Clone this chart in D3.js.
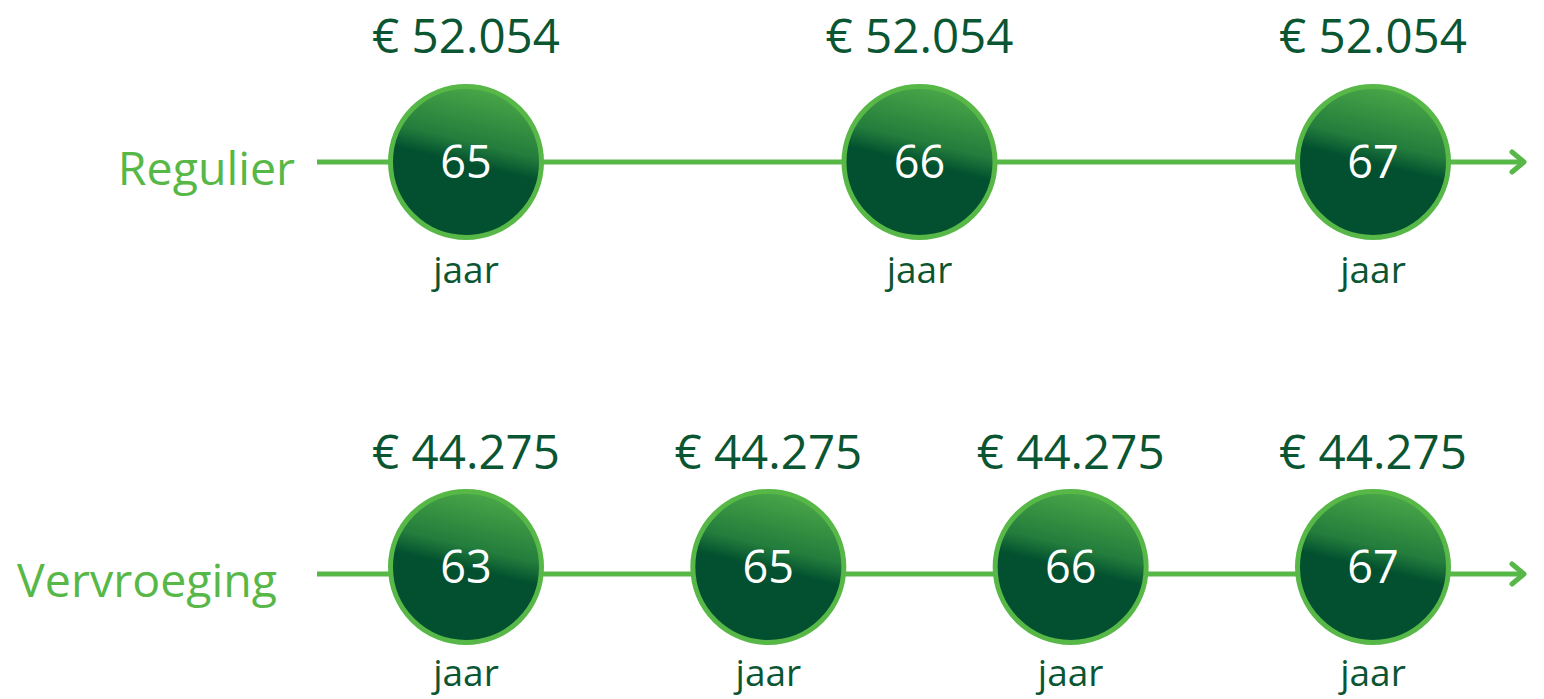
<!DOCTYPE html>
<html>
<head>
<meta charset="utf-8">
<script src="https://cdn.jsdelivr.net/npm/d3@7"></script>
<style>
  html, body { margin: 0; padding: 0; background: #fff; }
  svg { display: block; font-family: "Open Sans", "Noto Sans", sans-serif; }
</style>
</head>
<body>
<svg id="chart" width="1544" height="699"></svg>
<script>
// data
const rows = ["Regulier", "Vervroeging"];
const regulierAges = [65, 66, 67];
const regulierBedrag = [52054, 52054, 52054];
const vervroegingAges = [63, 65, 66, 67];
const vervroegingBedrag = [44275, 44275, 44275, 44275];
const unitLabel = "jaar";

const lightGreen = "#57b848";
const darkGreen = "#0a5532";

const nl = d3.formatLocale({ decimal: ",", thousands: ".", grouping: [3], currency: ["€ ", ""] });
const euro = nl.format("$,.0f");

const svg = d3.select("#chart");

// gradient for the circles
const defs = svg.append("defs");
const grad = defs.append("linearGradient")
    .attr("id", "ballFill")
    .attr("x1", 0.58).attr("y1", 0)
    .attr("x2", 0.46).attr("y2", 0.5);
grad.append("stop").attr("offset", 0).attr("stop-color", "#4aa748");
grad.append("stop").attr("offset", 0.72).attr("stop-color", "#237d3c");
grad.append("stop").attr("offset", 1).attr("stop-color", "#02502f");

defs.append("marker")
    .attr("id", "arrow")
    .attr("markerUnits", "userSpaceOnUse")
    .attr("viewBox", "-16 -14 20 28")
    .attr("refX", 0).attr("refY", 0)
    .attr("markerWidth", 20).attr("markerHeight", 28)
    .attr("orient", "auto")
  .append("path")
    .attr("d", "M-12,-10L0,0L-12,10")
    .attr("fill", "none")
    .attr("stroke", lightGreen)
    .attr("stroke-width", 5)
    .attr("stroke-linecap", "round")
    .attr("stroke-linejoin", "round");

// vertical placement per row
const lineY = d3.scalePoint().domain(rows).range([162, 574]);
const ballY = d3.scalePoint().domain(rows).range([162, 567]);
const bedragY = d3.scalePoint().domain(rows).range([53, 469]);
const jaarY = d3.scalePoint().domain(rows).range([283, 686]);
const labelY = d3.scalePoint().domain(rows).range([185, 597]);
const labelX = d3.scalePoint().domain(rows).range([295, 277]);

const series = [
  { name: rows[0], ages: regulierAges, bedrag: regulierBedrag },
  { name: rows[1], ages: vervroegingAges, bedrag: vervroegingBedrag }
];

const r = 75.5;

series.forEach(s => {
  const x = d3.scalePoint().domain(s.ages).range([466, 1373]);
  const g = svg.append("g");

  g.append("text")
      .attr("x", labelX(s.name))
      .attr("y", labelY(s.name))
      .attr("text-anchor", "end")
      .attr("fill", lightGreen)
      .attr("font-size", 46.5)
      .text(s.name);

  g.append("line")
      .attr("x1", 317).attr("x2", 1524)
      .attr("y1", lineY(s.name)).attr("y2", lineY(s.name))
      .attr("stroke", lightGreen)
      .attr("stroke-width", 5)
      .attr("marker-end", "url(#arrow)");

  const node = g.selectAll(".node")
    .data(s.ages.map((a, i) => ({ age: a, bedrag: s.bedrag[i] })))
    .enter().append("g")
      .attr("class", "node")
      .attr("transform", d => `translate(${x(d.age)},0)`);

  node.append("circle")
      .attr("cy", ballY(s.name))
      .attr("r", r)
      .attr("fill", "url(#ballFill)")
      .attr("stroke", lightGreen)
      .attr("stroke-width", 5);

  node.append("text")
      .attr("y", ballY(s.name))
      .attr("dy", "0.36em")
      .attr("text-anchor", "middle")
      .attr("fill", "#fff")
      .attr("font-size", 45)
      .text(d => d.age);

  node.append("text")
      .attr("y", bedragY(s.name))
      .attr("text-anchor", "middle")
      .attr("fill", darkGreen)
      .attr("font-size", 47.5)
      .text(d => euro(d.bedrag));

  node.append("text")
      .attr("y", jaarY(s.name))
      .attr("text-anchor", "middle")
      .attr("fill", darkGreen)
      .attr("font-size", 37)
      .text(unitLabel);
});
</script>
</body>
</html>
